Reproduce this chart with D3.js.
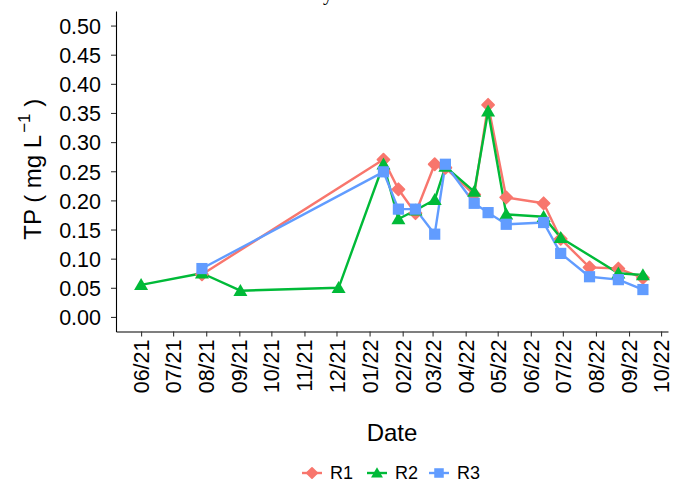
<!DOCTYPE html>
<html>
<head>
<meta charset="utf-8">
<script src="https://cdn.jsdelivr.net/npm/d3@7"></script>
<style>
  html, body { margin: 0; padding: 0; background: #fff; }
  svg { display: block; font-family: "Liberation Sans", Arial, sans-serif; }
</style>
</head>
<body>
<svg id="chart" width="674" height="484"></svg>
<script>
// Sampling dates and total phosphorus (mg/L) for the three sites
const sampleDates = ["2021-06-01","2021-07-28","2021-09-02","2021-12-03","2022-01-14","2022-01-28",
  "2022-02-13","2022-03-03","2022-03-13","2022-04-09","2022-04-22","2022-05-09","2022-06-13",
  "2022-06-29","2022-07-26","2022-08-22","2022-09-14"];
const r1 = [null, 0.073, null, null, 0.270, 0.219, 0.178, 0.262, 0.256, 0.210, 0.364, 0.205, 0.195, 0.134, 0.085, 0.083, 0.067];
const r2 = [0.055, 0.075, 0.045, 0.050, 0.262, 0.168, 0.183, 0.201, 0.258, 0.215, 0.353, 0.176, 0.172, 0.136, null, 0.075, 0.072];
const r3 = [null, 0.083, null, null, 0.249, 0.185, 0.185, 0.142, 0.262, 0.195, 0.179, 0.159, 0.162, 0.109, 0.069, 0.064, 0.047];
const seriesNames = ["R1", "R2", "R3"];
const seriesColors = ["#F8766D", "#00BA38", "#619CFF"];
const yTicks = [0, 0.05, 0.10, 0.15, 0.20, 0.25, 0.30, 0.35, 0.40, 0.45, 0.50];

const parse = d3.timeParse("%Y-%m-%d");
const dates = sampleDates.map(parse);
const seriesValues = [r1, r2, r3];
const series = seriesNames.map((name, i) => ({
  name, color: seriesColors[i],
  points: dates.map((d, j) => ({ date: d, v: seriesValues[i][j] })).filter(p => p.v != null)
}));

const svg = d3.select("#chart");
const panelLeft = 116, panelRight = 668, panelTop = 11, panelBottom = 331.5;
const FONT = "Liberation Sans, Arial, sans-serif";

// time axis padded by 5% on each side of the sampled range
const [d0, d1] = d3.extent(dates);
const pad = (d1 - d0) * 0.05;
const x = d3.scaleTime().domain([new Date(+d0 - pad), new Date(+d1 + pad)]).range([panelLeft, panelRight]);
const y = d3.scaleLinear().domain([-0.025, 0.525]).range([panelBottom, panelTop]);

// axes
const xAxis = d3.axisBottom(x).ticks(d3.timeMonth.every(1)).tickFormat(d3.timeFormat("%m/%y")).tickSize(5).tickSizeOuter(0);
const gx = svg.append("g").attr("transform", `translate(0,${panelBottom})`).call(xAxis);
gx.select(".domain").attr("stroke", "#000").attr("stroke-width", 1.1);
gx.selectAll(".tick line").attr("stroke", "#333").attr("stroke-width", 1.1);
gx.selectAll(".tick text")
  .attr("transform", "rotate(-90)")
  .attr("text-anchor", "end")
  .attr("x", -8).attr("y", 0).attr("dy", "0.35em")
  .attr("fill", "#000").style("font-size", "21.5px").style("font-family", FONT);

const yAxis = d3.axisLeft(y).tickValues(yTicks).tickFormat(d3.format(".2f")).tickSize(5).tickSizeOuter(0).tickPadding(10);
const gy = svg.append("g").attr("transform", `translate(${panelLeft},0)`).call(yAxis);
gy.select(".domain").attr("stroke", "#000").attr("stroke-width", 1.1);
gy.selectAll(".tick line").attr("stroke", "#333").attr("stroke-width", 1.1);
gy.selectAll(".tick text").attr("fill", "#000").attr("dy", "0.36em").style("font-size", "21.5px").style("font-family", FONT);

// axis titles
svg.append("text").attr("x", (panelLeft + panelRight) / 2).attr("y", 441).attr("text-anchor", "middle")
  .style("font-size", "24px").text("Date");
const yt = svg.append("text").attr("transform", `translate(41,${(panelTop + panelBottom) / 2 - 2}) rotate(-90)`)
  .attr("text-anchor", "middle").style("font-size", "24px");
yt.append("tspan").text("TP ( mg L");
yt.append("tspan").attr("dy", -11).attr("dx", 2).style("font-size", "17px").text("\u22121");
yt.append("tspan").attr("dy", 11).text("  )");

// title, mostly above the top edge
svg.append("text").attr("x", 328).attr("y", 0).attr("text-anchor", "middle")
  .style("font-size", "20px").style("font-family", "Liberation Serif, serif").text("y");

// marker shapes
function marker(sel, i, s) {
  if (i === 0) {
    sel.append("path").attr("d", `M0,${-6*s}L${6*s},0L0,${6*s}L${-6*s},0Z`)
      .attr("fill", seriesColors[0]).attr("stroke", seriesColors[0]).attr("stroke-width", 1.8).attr("stroke-linejoin", "round");
  } else if (i === 1) {
    sel.append("path").attr("d", `M0,${-6.8*s}L${7*s},${5.2*s}L${-7*s},${5.2*s}Z`)
      .attr("fill", seriesColors[1]);
  } else {
    sel.append("rect").attr("x", -5.6*s).attr("y", -5.6*s).attr("width", 11.2*s).attr("height", 11.2*s)
      .attr("fill", seriesColors[2]);
  }
}

const line = d3.line().x(p => x(p.date)).y(p => y(p.v));
const plot = svg.append("g");
series.forEach(s => {
  plot.append("path").datum(s.points).attr("d", line)
    .attr("fill", "none").attr("stroke", s.color).attr("stroke-width", 2.4).attr("stroke-linejoin", "round");
});
series.forEach((s, i) => {
  s.points.forEach(p => {
    const g = plot.append("g").attr("transform", `translate(${x(p.date)},${y(p.v)})`);
    marker(g, i, 1);
  });
});

// legend
const legendX = [312, 377, 439];
seriesNames.forEach((name, i) => {
  const g = svg.append("g").attr("transform", `translate(${legendX[i]},473)`);
  g.append("line").attr("x1", -10).attr("x2", 10).attr("stroke", seriesColors[i]).attr("stroke-width", 2.4);
  marker(g, i, 0.85);
  g.append("text").attr("x", 18).attr("y", 0).attr("dy", "0.36em").style("font-size", "18px").text(name);
});
</script>
</body>
</html>
